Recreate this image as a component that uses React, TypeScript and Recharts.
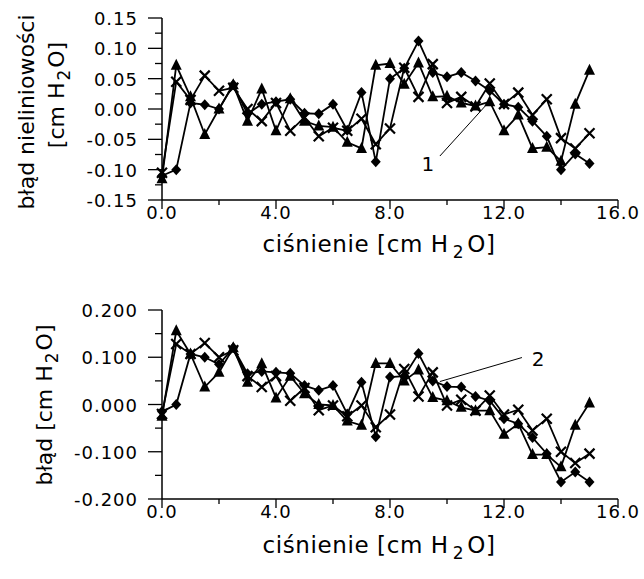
import { LineChart, Line, XAxis, YAxis, ReferenceLine, ReferenceDot } from 'recharts'

const pressure = [0, 0.5, 1, 1.5, 2, 2.5, 3, 3.5, 4, 4.5, 5, 5.5, 6, 6.5, 7, 7.5, 8, 8.5, 9, 9.5, 10, 10.5, 11, 11.5, 12, 12.5, 13, 13.5, 14, 14.5, 15]

// panel 1 - błąd nieliniowości
const topDiamond = [-0.11, -0.1, 0.01, 0.007, 0.0, 0.04, -0.008, 0.008, 0.012, 0.016, -0.007, -0.008, 0.008, -0.035, 0.027, -0.087, 0.05, 0.067, 0.112, 0.06, 0.053, 0.06, 0.046, 0.03, 0.008, 0.003, -0.02, -0.045, -0.1, -0.074, -0.09]
const topTriangle = [-0.115, 0.072, 0.02, -0.042, 0.0, 0.04, -0.02, 0.033, -0.036, 0.017, -0.02, -0.028, -0.03, -0.055, -0.065, 0.072, 0.075, 0.041, 0.076, 0.02, 0.021, 0.01, 0.005, 0.012, -0.036, -0.01, -0.065, -0.063, -0.086, 0.008, 0.064]
const topCross = [-0.105, 0.045, 0.015, 0.055, 0.03, 0.035, 0.0, -0.02, 0.01, -0.036, -0.014, -0.045, -0.031, -0.036, -0.016, -0.058, -0.032, 0.068, 0.02, 0.074, 0.01, 0.02, 0.004, 0.042, 0.008, 0.027, -0.01, 0.016, -0.048, -0.065, -0.04]

// panel 2 - błąd
const botDiamond = [-0.015, 0.0, 0.107, 0.1, 0.085, 0.12, 0.065, 0.07, 0.068, 0.066, 0.04, 0.03, 0.04, -0.02, 0.047, -0.068, 0.058, 0.06, 0.108, 0.05, 0.038, 0.037, 0.017, 0.008, -0.03, -0.041, -0.07, -0.104, -0.164, -0.143, -0.164]
const botTriangle = [-0.025, 0.156, 0.107, 0.037, 0.068, 0.12, 0.047, 0.086, 0.014, 0.06, 0.023, 0.0, -0.002, -0.035, -0.044, 0.087, 0.087, 0.05, 0.073, 0.015, 0.008, -0.006, -0.013, -0.013, -0.063, -0.041, -0.106, -0.106, -0.132, -0.044, 0.003]
const botCross = [-0.02, 0.128, 0.107, 0.13, 0.1, 0.115, 0.06, 0.037, 0.06, 0.008, 0.035, -0.012, -0.002, -0.025, -0.002, -0.048, -0.021, 0.075, 0.017, 0.068, -0.002, 0.01, -0.013, 0.019, -0.021, -0.011, -0.055, -0.03, -0.1, -0.124, -0.104]

const xTicks = [0, 2, 4, 6, 8, 10, 12, 14, 16]
const xLabelled = [0, 4, 8, 12, 16]
const topYMajor = [-0.15, -0.1, -0.05, 0, 0.05, 0.1, 0.15]
const topYMinor = [-0.125, -0.075, -0.025, 0.025, 0.075, 0.125]
const botYMajor = [-0.2, -0.1, 0, 0.1, 0.2]
const botYMinor = [-0.15, -0.05, 0.05, 0.15]

const topData = pressure.map((p, i) => ({ p, d: topDiamond[i], t: topTriangle[i], c: topCross[i] }))
const botData = pressure.map((p, i) => ({ p, d: botDiamond[i], t: botTriangle[i], c: botCross[i] }))

const FONT = '"DejaVu Sans", sans-serif'

const Diamond = ({ cx, cy }: any) => (
  <path d={`M${cx},${cy - 5.5}L${cx + 5},${cy}L${cx},${cy + 5.5}L${cx - 5},${cy}Z`} fill="#000" />
)
const Triangle = ({ cx, cy }: any) => (
  <path d={`M${cx},${cy - 6.5}L${cx + 5.5},${cy + 4.5}L${cx - 5.5},${cy + 4.5}Z`} fill="#000" />
)
const Cross = ({ cx, cy }: any) => (
  <path d={`M${cx - 5},${cy - 5}L${cx + 5},${cy + 5}M${cx + 5},${cy - 5}L${cx - 5},${cy + 5}`} stroke="#000" strokeWidth={2.2} fill="none" />
)

const XTick = ({ x, y, payload }: any) => {
  const major = xLabelled.includes(payload.value)
  return (
    <g>
      <line x1={x} x2={x} y1={y} y2={y + (major ? 9 : 5)} stroke="#000" strokeWidth={1.3} />
      {major && (
        <text x={x} y={y + 19} textAnchor="middle" fontFamily={FONT} fontSize={18} letterSpacing={1} fill="#000">
          {payload.value.toFixed(1)}
        </text>
      )}
    </g>
  )
}

const makeYTick = (majors: number[], digits: number) => ({ x, y, payload }: any) => {
  const major = majors.some((m) => Math.abs(m - payload.value) < 1e-6)
  return (
    <g>
      <line x1={x - (major ? 14 : 7)} x2={x} y1={y} y2={y} stroke="#000" strokeWidth={1.3} />
      {major && (
        <text x={x - 24} y={y + 7} textAnchor="end" fontFamily={FONT} fontSize={18} letterSpacing={1} fill="#000">
          {payload.value.toFixed(digits)}
        </text>
      )}
    </g>
  )
}

const TopYTick = makeYTick(topYMajor, 2)
const BotYTick = makeYTick(botYMajor, 3)

const series = [
  { key: 'd', Shape: Diamond },
  { key: 't', Shape: Triangle },
  { key: 'c', Shape: Cross },
]

function renderLines() {
  return series.map(({ key, Shape }) => (
    <Line
      key={key}
      dataKey={key}
      type="linear"
      stroke="#000"
      strokeWidth={1.8}
      isAnimationActive={false}
      dot={(props: any) => <Shape key={`${key}-${props.index}`} cx={props.cx} cy={props.cy} />}
      activeDot={false}
    />
  ))
}

const XTitle = ({ y }: { y: number }) => (
  <text x={379} y={y} textAnchor="middle" fontSize={23} letterSpacing={0.6}>
    ciśnienie [cm H<tspan dx={4} dy={6} fontSize={17}>2</tspan><tspan dx={3} dy={-6}>O]</tspan>
  </text>
)

export default function App() {
  return (
    <div style={{ position: 'absolute', left: 0, top: 0, width: 644, height: 579, background: '#fff' }}>
      <div style={{ position: 'absolute', left: 0, top: 0 }}>
        <LineChart width={644} height={270} data={topData} margin={{ top: 18, right: 26, left: 0, bottom: 0 }}>
          <XAxis
            type="number"
            dataKey="p"
            domain={[0, 16]}
            ticks={xTicks}
            interval={0}
            height={70}
            tickSize={0}
            tickMargin={0}
            tickLine={false}
            axisLine={{ stroke: '#000', strokeWidth: 1.5 }}
            tick={<XTick />}
          />
          <YAxis
            type="number"
            domain={[-0.15, 0.15]}
            ticks={[...topYMajor, ...topYMinor].sort((a, b) => a - b)}
            interval={0}
            width={162}
            tickSize={0}
            tickMargin={0}
            tickLine={false}
            axisLine={{ stroke: '#000', strokeWidth: 1.5 }}
            tick={<TopYTick />}
          />
          {renderLines()}
          <ReferenceLine segment={[{ x: 9.75, y: -0.0775 }, { x: 11.44, y: 0.01 }]} stroke="#000" strokeWidth={1} />
          <ReferenceDot x={9.33} y={-0.09} r={0} stroke="none" label={{ value: '1', position: 'center', fontSize: 20, fontFamily: FONT, fill: '#000' }} />
        </LineChart>
      </div>
      <div style={{ position: 'absolute', left: 0, top: 290 }}>
        <LineChart width={644} height={289} data={botData} margin={{ top: 20, right: 26, left: 0, bottom: 0 }}>
          <XAxis
            type="number"
            dataKey="p"
            domain={[0, 16]}
            ticks={xTicks}
            interval={0}
            height={80}
            tickSize={0}
            tickMargin={0}
            tickLine={false}
            axisLine={{ stroke: '#000', strokeWidth: 1.5 }}
            tick={<XTick />}
          />
          <YAxis
            type="number"
            domain={[-0.2, 0.2]}
            ticks={[...botYMajor, ...botYMinor].sort((a, b) => a - b)}
            interval={0}
            width={162}
            tickSize={0}
            tickMargin={0}
            tickLine={false}
            axisLine={{ stroke: '#000', strokeWidth: 1.5 }}
            tick={<BotYTick />}
          />
          {renderLines()}
          <ReferenceLine segment={[{ x: 9.75, y: 0.0486 }, { x: 12.63, y: 0.0994 }]} stroke="#000" strokeWidth={1} />
          <ReferenceDot x={13.2} y={0.097} r={0} stroke="none" label={{ value: '2', position: 'center', fontSize: 20, fontFamily: FONT, fill: '#000' }} />
        </LineChart>
      </div>
      <svg width={644} height={579} style={{ position: 'absolute', left: 0, top: 0, pointerEvents: 'none' }} fontFamily={FONT} fill="#000">
        <XTitle y={252} />
        <XTitle y={553} />
        <text transform="translate(34,112) rotate(-90)" textAnchor="middle" fontSize={22}>
          błąd nieliniowości
        </text>
        <text transform="translate(64,95) rotate(-90)" textAnchor="middle" fontSize={22}>
          [cm H<tspan dx={2} dy={6} fontSize={17}>2</tspan><tspan dx={2} dy={-6}>O]</tspan>
        </text>
        <text transform="translate(52,405) rotate(-90)" textAnchor="middle" fontSize={22}>
          błąd [cm H<tspan dx={2} dy={6} fontSize={17}>2</tspan><tspan dx={2} dy={-6}>O]</tspan>
        </text>
      </svg>
    </div>
  )
}
